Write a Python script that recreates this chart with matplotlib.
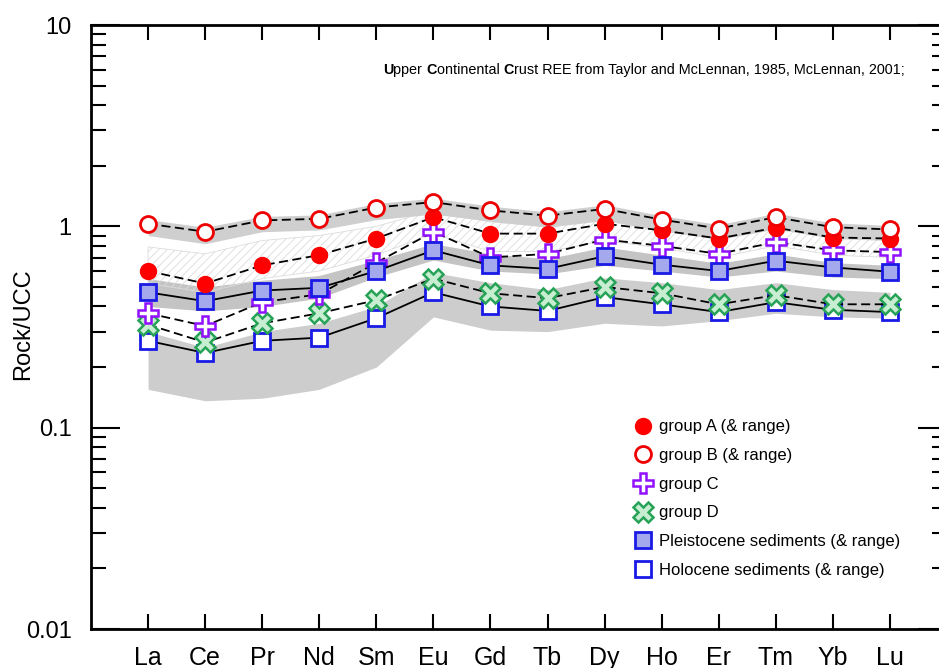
import matplotlib
matplotlib.use("Agg")
import matplotlib.pyplot as plt
from matplotlib.lines import Line2D
import numpy as np

plt.rcParams['font.family'] = ['Liberation Sans', 'DejaVu Sans']
plt.rcParams['hatch.linewidth'] = 0.6

# REE normalised to upper continental crust
ree = ['La', 'Ce', 'Pr', 'Nd', 'Sm', 'Eu', 'Gd', 'Tb', 'Dy', 'Ho', 'Er', 'Tm', 'Yb', 'Lu']

grp_a = [0.60, 0.52, 0.64, 0.72, 0.87, 1.11, 0.92, 0.92, 1.03, 0.955, 0.87, 0.985, 0.88, 0.87]
grp_b = [1.03, 0.94, 1.07, 1.09, 1.24, 1.32, 1.20, 1.13, 1.22, 1.08, 0.975, 1.11, 0.99, 0.965]
grp_c = [0.37, 0.32, 0.42, 0.46, 0.66, 0.94, 0.70, 0.73, 0.86, 0.80, 0.73, 0.835, 0.76, 0.745]
grp_d = [0.325, 0.265, 0.33, 0.37, 0.43, 0.55, 0.465, 0.44, 0.50, 0.465, 0.41, 0.455, 0.41, 0.41]
pleist = [0.47, 0.425, 0.48, 0.495, 0.60, 0.76, 0.64, 0.615, 0.71, 0.645, 0.60, 0.675, 0.625, 0.595]
holo = [0.27, 0.235, 0.27, 0.28, 0.35, 0.47, 0.40, 0.38, 0.445, 0.41, 0.375, 0.42, 0.385, 0.375]

# ranges
a_hi = [0.79, 0.73, 0.85, 0.90, 1.00, 1.20, 1.05, 1.00, 1.12, 1.00, 0.90, 1.03, 0.92, 0.90]
a_lo = [0.52, 0.47, 0.55, 0.60, 0.72, 0.92, 0.75, 0.75, 0.85, 0.78, 0.70, 0.80, 0.72, 0.70]
b_hi = [1.08, 0.99, 1.12, 1.14, 1.30, 1.38, 1.26, 1.18, 1.28, 1.13, 1.02, 1.16, 1.04, 1.01]
b_lo = [0.90, 0.82, 0.94, 0.96, 1.08, 1.15, 1.06, 0.99, 1.07, 0.95, 0.86, 0.97, 0.87, 0.85]
p_hi = [0.55, 0.50, 0.54, 0.57, 0.68, 0.82, 0.73, 0.69, 0.79, 0.72, 0.655, 0.73, 0.66, 0.64]
p_lo = [0.40, 0.38, 0.40, 0.44, 0.56, 0.68, 0.60, 0.58, 0.64, 0.60, 0.56, 0.60, 0.56, 0.55]
h_hi = [0.30, 0.25, 0.30, 0.33, 0.40, 0.59, 0.525, 0.485, 0.555, 0.525, 0.485, 0.525, 0.485, 0.47]
h_lo = [0.155, 0.136, 0.14, 0.155, 0.20, 0.355, 0.305, 0.30, 0.33, 0.32, 0.34, 0.37, 0.355, 0.35]

x = np.arange(len(ree))

fig = plt.figure(figsize=(9.39, 6.68), dpi=100)
ax = fig.add_axes([91/939, 39/668, 856/939, 604/668])
ax.set_yscale('log')
ax.set_ylim(0.01, 10)
ax.set_xlim(-1, len(ree))

# shaded ranges
ax.fill_between(x, h_lo, h_hi, color='#cdcdcd', lw=0, zorder=1)
ax.fill_between(x, p_lo, p_hi, color='#c4c4c4', lw=0, zorder=1)
ax.fill_between(x, a_lo, a_hi, facecolor='none', edgecolor='#dcdcdc', hatch='////', lw=0.6, zorder=1)
ax.fill_between(x, b_lo, b_hi, color='#cfcfcf', lw=0, zorder=1)

dash = (5, 2.5)
blue = '#1a1ae6'
ax.plot(x, holo, '-', color='k', lw=1.3, marker='s', ms=12, mfc='white', mec=blue, mew=2, zorder=3)
ax.plot(x, grp_d, '--', dashes=dash, color='k', lw=1.3, marker='X', ms=14, mfc='#c8eed2', mec='#27a357', mew=1.8, zorder=4)
ax.plot(x, grp_c, '--', dashes=dash, color='k', lw=1.3, marker='P', ms=14, mfc='white', mec='#9010ff', mew=1.8, zorder=5)
ax.plot(x, pleist, '-', color='k', lw=1.3, marker='s', ms=12, mfc='#a4a9ee', mec=blue, mew=2, zorder=6)
ax.plot(x, grp_a, '--', dashes=dash, color='k', lw=1.3, marker='o', ms=11.5, mfc='#ff0000', mec='#ff0000', mew=1, zorder=7)
ax.plot(x, grp_b, '--', dashes=dash, color='k', lw=1.3, marker='o', ms=11.5, mfc='white', mec='#ee0000', mew=2, zorder=8)

# axes styling
for s in ax.spines.values():
    s.set_linewidth(2)
ax.set_xticks(x)
ax.set_xticklabels(ree, fontsize=18)
ax.set_yticks([0.01, 0.1, 1, 10])
ax.set_yticklabels(['0.01', '0.1', '1', '10'], fontsize=17)
ax.tick_params(axis='x', which='both', direction='in', top=True, bottom=True, length=11, width=1.5, pad=12)
ax.tick_params(axis='y', which='major', direction='in', left=True, right=True, length=21, width=1.5, pad=14)
ax.tick_params(axis='y', which='minor', direction='in', left=True, right=True, length=11, width=1.5)
ax.yaxis.set_minor_locator(matplotlib.ticker.LogLocator(base=10, subs=np.arange(2, 10)))
ax.yaxis.set_minor_formatter(matplotlib.ticker.NullFormatter())
ax.set_ylabel('Rock/UCC', fontsize=17)
ax.yaxis.set_label_coords((34 - 91)/856, 0.505)

# reference note with bold initials
parts = [('U', 'bold'), ('pper ', 'normal'), ('C', 'bold'), ('ontinental ', 'normal'),
         ('C', 'bold'), ('rust REE from Taylor and McLennan, 1985, McLennan, 2001;', 'normal')]
t = ax.annotate(parts[0][0], xy=((383 - 91)/856, 1 - (70 - 25)/604), xycoords='axes fraction',
                fontsize=10.4, fontweight=parts[0][1], va='center')
for txt, w in parts[1:]:
    t = ax.annotate(txt, xy=(1, 0), xycoords=t, fontsize=10.4, fontweight=w, va='bottom')

handles = [
    Line2D([], [], ls='none', marker='o', ms=11.5, mfc='#ff0000', mec='#ff0000'),
    Line2D([], [], ls='none', marker='o', ms=11.5, mfc='white', mec='#ee0000', mew=2),
    Line2D([], [], ls='none', marker='P', ms=14, mfc='white', mec='#9010ff', mew=1.8),
    Line2D([], [], ls='none', marker='X', ms=14, mfc='#c8eed2', mec='#27a357', mew=1.8),
    Line2D([], [], ls='none', marker='s', ms=12, mfc='#a4a9ee', mec=blue, mew=2),
    Line2D([], [], ls='none', marker='s', ms=12, mfc='white', mec=blue, mew=2),
]
labels = ['group A (& range)', 'group B (& range)', 'group C', 'group D',
          'Pleistocene sediments (& range)', 'Holocene sediments (& range)']
ax.legend(handles, labels, loc='upper left', bbox_to_anchor=(0.635, 0.347), frameon=False,
          fontsize=12, handlelength=1.0, handletextpad=0.46, labelspacing=0.82,
          borderpad=0, borderaxespad=0)

fig.savefig('out.png', dpi=100)
